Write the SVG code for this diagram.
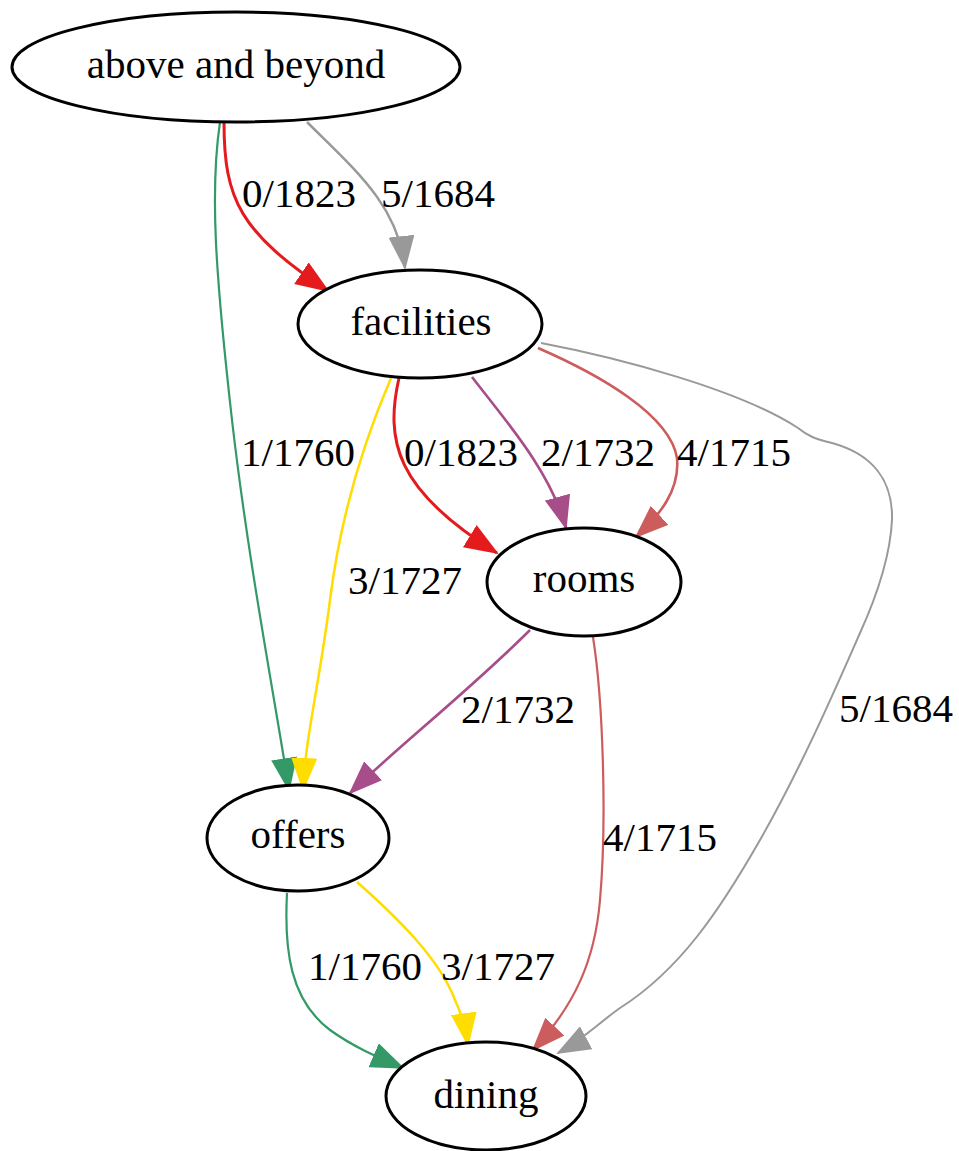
<svg xmlns="http://www.w3.org/2000/svg" width="959" height="1151" viewBox="0 0 959 1151">
  <style>
    .node ellipse { fill: #ffffff; stroke: #000000; stroke-width: 3; }
    .node text { font-family: "Liberation Serif", "Times New Roman", serif; font-size: 41px; fill: #000000; text-anchor: middle; }
    .edge path { fill: none; }
    .lbl { font-family: "Liberation Serif", "Times New Roman", serif; font-size: 41px; fill: #000000; }
  </style>
  <defs>
    <marker id="ah-red" markerUnits="userSpaceOnUse" markerWidth="36" markerHeight="26" refX="32" refY="13" orient="auto"><path d="M0,0 L34,13 L0,26 z" fill="#e41a1c"/></marker>
    <marker id="ah-gray" markerUnits="userSpaceOnUse" markerWidth="36" markerHeight="26" refX="32" refY="13" orient="auto"><path d="M0,0 L34,13 L0,26 z" fill="#999999"/></marker>
    <marker id="ah-green" markerUnits="userSpaceOnUse" markerWidth="36" markerHeight="26" refX="32" refY="13" orient="auto"><path d="M0,0 L34,13 L0,26 z" fill="#339966"/></marker>
    <marker id="ah-purple" markerUnits="userSpaceOnUse" markerWidth="36" markerHeight="26" refX="32" refY="13" orient="auto"><path d="M0,0 L34,13 L0,26 z" fill="#a64d8a"/></marker>
    <marker id="ah-indian" markerUnits="userSpaceOnUse" markerWidth="36" markerHeight="26" refX="32" refY="13" orient="auto"><path d="M0,0 L34,13 L0,26 z" fill="#cd5c5c"/></marker>
    <marker id="ah-yellow" markerUnits="userSpaceOnUse" markerWidth="36" markerHeight="26" refX="32" refY="13" orient="auto"><path d="M0,0 L34,13 L0,26 z" fill="#ffdd00"/></marker>
  </defs>
  <rect width="959" height="1151" fill="#ffffff"/>

  <!-- connectors -->
  <g id="edges">
    <g class="edge" id="e-above-facilities-0">
      <path d="M224,122 C224,200 240,232 328,291" stroke="#e41a1c" stroke-width="3" marker-end="url(#ah-red)"/>
      <text class="lbl" x="242" y="207">0/1823</text>
    </g>
    <g class="edge" id="e-above-facilities-5">
      <path d="M307,122 C355,170 398,205 405,268" stroke="#999999" stroke-width="2.5" marker-end="url(#ah-gray)"/>
      <text class="lbl" x="381" y="207">5/1684</text>
    </g>
    <g class="edge" id="e-above-offers-1">
      <path d="M220,122 C210,190 215,270 232,420 C248,560 275,700 289,790" stroke="#339966" stroke-width="2.2" marker-end="url(#ah-green)"/>
      <text class="lbl" x="241" y="466">1/1760</text>
    </g>
    <g class="edge" id="e-facilities-rooms-0">
      <path d="M399,378 C385,440 395,490 497,553" stroke="#e41a1c" stroke-width="3" marker-end="url(#ah-red)"/>
      <text class="lbl" x="404" y="466">0/1823</text>
    </g>
    <g class="edge" id="e-facilities-rooms-2">
      <path d="M472,377 C505,420 550,470 566,528" stroke="#a64d8a" stroke-width="2.6" marker-end="url(#ah-purple)"/>
      <text class="lbl" x="541" y="466">2/1732</text>
    </g>
    <g class="edge" id="e-facilities-rooms-4">
      <path d="M538,348 C600,375 670,415 677,458 C680,490 660,515 636,537" stroke="#cd5c5c" stroke-width="2.6" marker-end="url(#ah-indian)"/>
      <text class="lbl" x="677" y="466">4/1715</text>
    </g>
    <g class="edge" id="e-facilities-offers-3">
      <path d="M391,378 C360,450 340,520 330,600 C320,680 305,740 303,790" stroke="#ffdd00" stroke-width="2.5" marker-end="url(#ah-yellow)"/>
      <text class="lbl" x="348" y="594">3/1727</text>
    </g>
    <g class="edge" id="e-facilities-dining-5">
      <path d="M541,343 C620,358 740,390 798,428 C808,436 815,439 832,443 C872,454 893,480 892,520 C890,560 875,600 860,633 C835,690 800,770 760,840 C720,910 680,970 620,1008 C600,1022 582,1040 558,1053" stroke="#999999" stroke-width="2" marker-end="url(#ah-gray)"/>
      <text class="lbl" x="839" y="722">5/1684</text>
    </g>
    <g class="edge" id="e-rooms-offers-2">
      <path d="M530,630 C470,690 400,745 350,793" stroke="#a64d8a" stroke-width="2.6" marker-end="url(#ah-purple)"/>
      <text class="lbl" x="461" y="723">2/1732</text>
    </g>
    <g class="edge" id="e-rooms-dining-4">
      <path d="M593,637 C603,700 607,820 600,900 C595,960 575,1005 533,1050" stroke="#cd5c5c" stroke-width="2.2" marker-end="url(#ah-indian)"/>
      <text class="lbl" x="603" y="851">4/1715</text>
    </g>
    <g class="edge" id="e-offers-dining-1">
      <path d="M287,893 C284,950 290,1000 330,1030 C355,1048 380,1058 403,1068" stroke="#339966" stroke-width="2.2" marker-end="url(#ah-green)"/>
      <text class="lbl" x="308" y="980">1/1760</text>
    </g>
    <g class="edge" id="e-offers-dining-3">
      <path d="M357,882 C400,920 440,960 455,1000 C462,1015 466,1030 468,1045" stroke="#ffdd00" stroke-width="2.5" marker-end="url(#ah-yellow)"/>
      <text class="lbl" x="441" y="980">3/1727</text>
    </g>
  </g>

  <!-- nodes -->
  <g class="node" id="n-above-and-beyond">
    <ellipse cx="236" cy="67" rx="224" ry="55"/>
    <text x="236" y="78">above and beyond</text>
  </g>
  <g class="node" id="n-facilities">
    <ellipse cx="420" cy="324" rx="122" ry="54"/>
    <text x="421" y="335">facilities</text>
  </g>
  <g class="node" id="n-rooms">
    <ellipse cx="584" cy="582" rx="97" ry="54"/>
    <text x="584" y="592">rooms</text>
  </g>
  <g class="node" id="n-offers">
    <ellipse cx="298" cy="838" rx="91" ry="53"/>
    <text x="298" y="848">offers</text>
  </g>
  <g class="node" id="n-dining">
    <ellipse cx="486" cy="1096" rx="100" ry="54"/>
    <text x="486" y="1108">dining</text>
  </g>
</svg>
